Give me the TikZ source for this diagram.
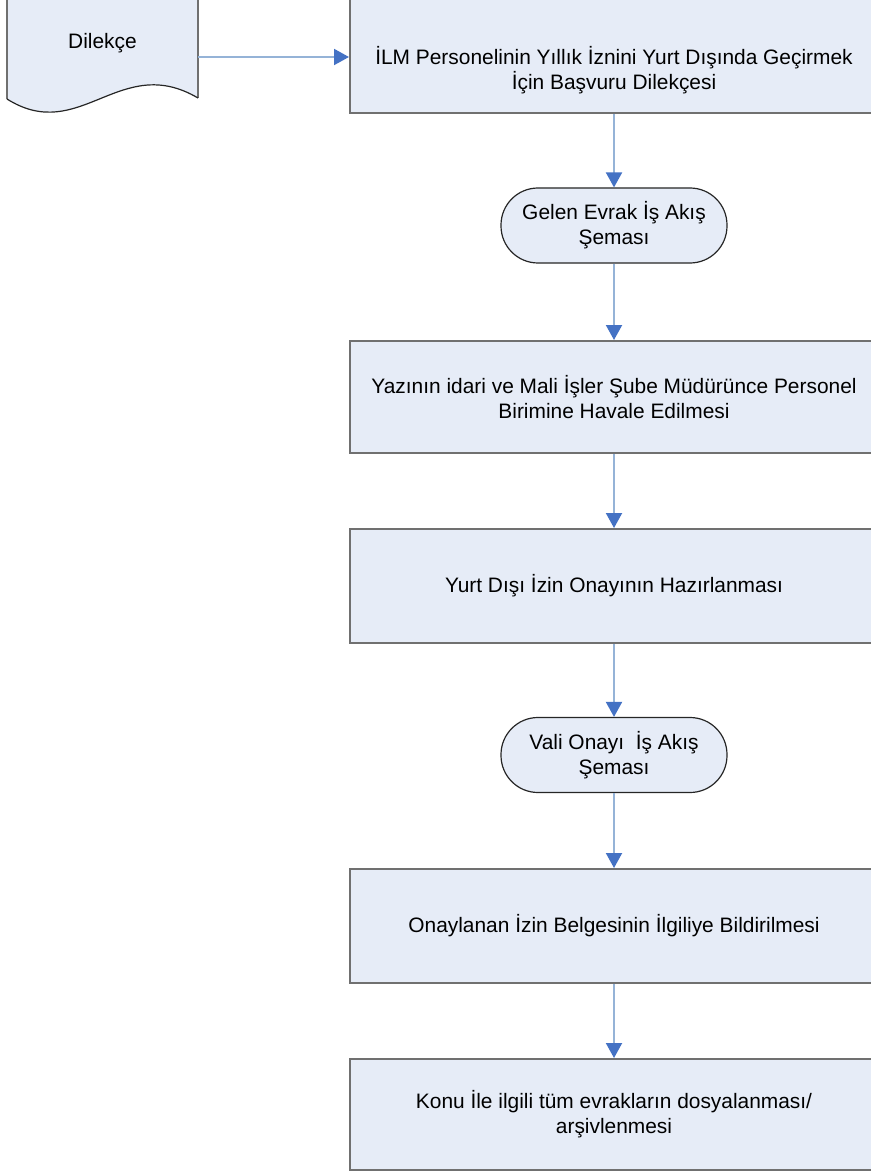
\documentclass[tikz,border=0pt]{standalone}
\usepackage{fontspec}
\setmainfont{Liberation Sans}
\usetikzlibrary{arrows.meta}

\definecolor{boxFill}{RGB}{230,236,247}
\definecolor{boxLine}{RGB}{112,112,112}
\definecolor{lineBlue}{RGB}{149,179,215}
\definecolor{tipBlue}{RGB}{68,114,196}

\tikzset{
	stepBox/.style={rectangle, fill=boxFill, draw=boxLine, line width=2pt, minimum width=528pt, align=center},
	termBox/.style={rectangle, rounded corners=37pt, fill=boxFill, draw=black!85, line width=1.2pt, minimum width=226pt, minimum height=75pt, align=center},
	flowArrow/.style={-{Triangle[length=15pt, width=16pt, color=tipBlue]}, draw=lineBlue, line width=2pt}
}

\begin{document}
\begin{tikzpicture}[x=1pt, y=-1pt, font=\fontsize{20.9}{25}\selectfont]
		\useasboundingbox (0,0) rectangle (870,1174);

		% dilekce document
		\fill[boxFill] (7,-30) -- (7,99) .. controls (80,145) and (120,52) .. (198,98) -- (198,-30) -- cycle;
		\draw[boxLine, line width=2pt] (7,-30) -- (7,99);
		\draw[boxLine, line width=2pt] (198,98) -- (198,-30);
		\draw[black!85, line width=1.2pt] (7,99) .. controls (80,145) and (120,52) .. (198,98);
		\node[minimum width=191pt, minimum height=114pt, inner sep=0pt](dilekceDoc) at (102.5,57){};
		\node(dilekceText) at (102.5,43){Dilekçe};

		% process boxes
		\node[stepBox, minimum height=143pt](basvuruBox) at (614,41.5){};
		\node[align=center](basvuruText) at (614,70.5){İLM Personelinin Yıllık İznini Yurt Dışında Geçirmek\\İçin Başvuru Dilekçesi};
		\node[termBox](gelenTerm) at (614,225.5){Gelen Evrak İş Akış\\Şeması};
		\node[stepBox, minimum height=112pt](havaleBox) at (614,397){Yazının idari ve Mali İşler Şube Müdürünce Personel\\Birimine Havale Edilmesi};
		\node[stepBox, minimum height=114pt](onayBox) at (614,586){Yurt Dışı İzin Onayının Hazırlanması};
		\node[termBox](valiTerm) at (614,755){Vali Onayı\ \ İş Akış\\Şeması};
		\node[stepBox, minimum height=114pt](bildirimBox) at (614,926){Onaylanan İzin Belgesinin İlgiliye Bildirilmesi};
		\node[stepBox, minimum height=111pt](arsivBox) at (614,1114.5){Konu İle ilgili tüm evrakların dosyalanması/\\arşivlenmesi};

		% draw flow edges
		\draw[flowArrow] (dilekceDoc.east) -- (dilekceDoc.east -| basvuruBox.west);
		\draw[flowArrow] (basvuruBox.south) -- (gelenTerm.north);
		\draw[flowArrow] (gelenTerm.south) -- (havaleBox.north);
		\draw[flowArrow] (havaleBox.south) -- (onayBox.north);
		\draw[flowArrow] (onayBox.south) -- (valiTerm.north);
		\draw[flowArrow] (valiTerm.south) -- (bildirimBox.north);
		\draw[flowArrow] (bildirimBox.south) -- (arsivBox.north);
\end{tikzpicture}
\end{document}
